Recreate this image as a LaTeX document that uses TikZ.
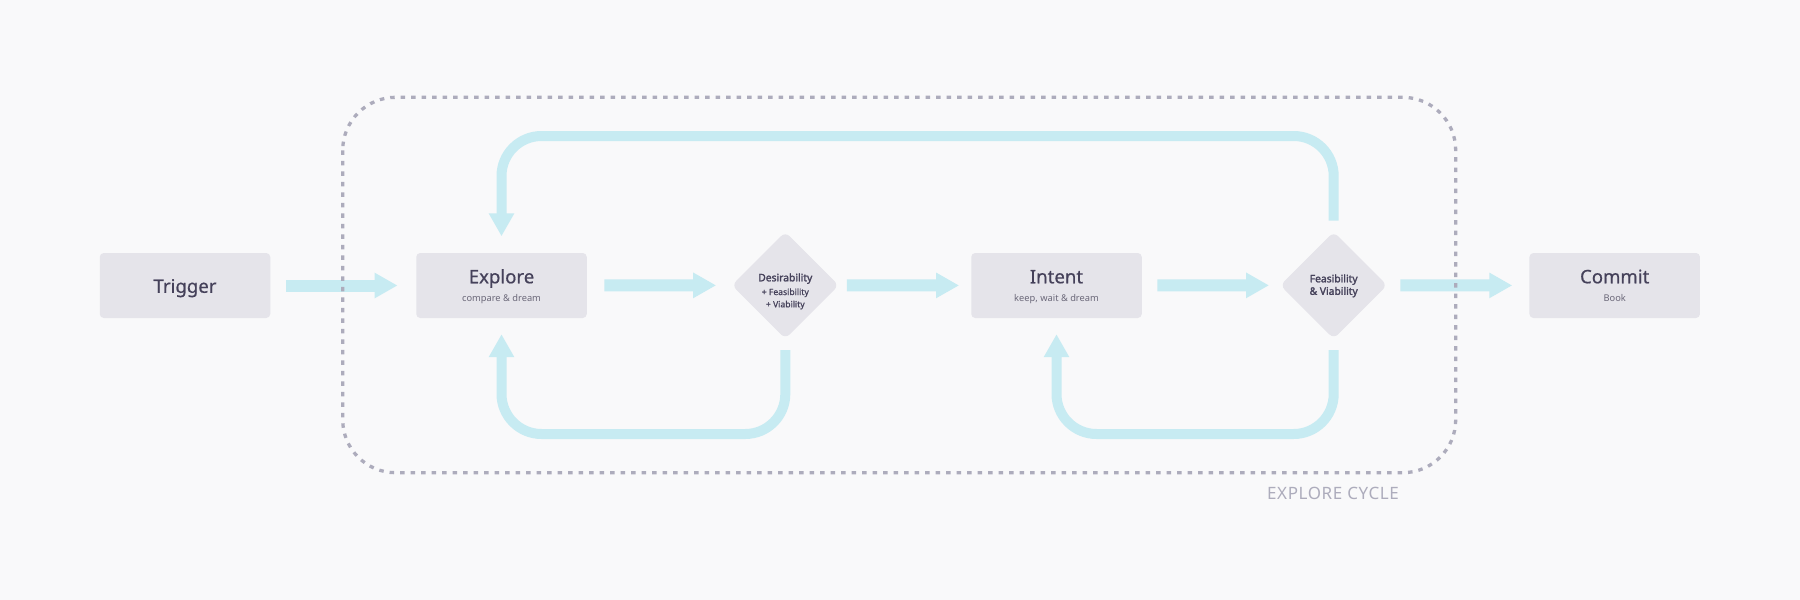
\documentclass[tikz,border=0pt]{standalone}
\usepackage{fontspec}
\setmainfont{Noto Sans}[AutoFakeBold=2]
\newfontfamily\midfont{Noto Sans}[FakeBold=0.6]
\usetikzlibrary{shapes.geometric,arrows.meta}

\definecolor{bgcol}{HTML}{F9F9FA}
\definecolor{boxcol}{HTML}{E5E4EA}
\definecolor{inkcol}{HTML}{45415A}
\definecolor{subcol}{HTML}{6B6879}
\definecolor{flowcol}{HTML}{C7EBF2}
\definecolor{dashcol}{HTML}{ADACBC}

\tikzset{
  stagebox/.style={draw=none,fill=boxcol,rounded corners=4pt,minimum width=170.5pt,minimum height=65pt,inner sep=0pt},
  gatebox/.style={diamond,aspect=1,draw=none,fill=boxcol,rounded corners=6pt,minimum size=107pt,inner sep=0pt},
  ttl/.style={anchor=base,inner sep=0pt,text=inkcol,font=\midfont\fontsize{18.6}{22}\selectfont},
  subttl/.style={anchor=base,inner sep=0pt,text=subcol,font=\fontsize{9.3}{11}\selectfont},
  gatettl/.style={anchor=base,inner sep=0pt,text=inkcol,font=\bfseries\fontsize{10.3}{12}\selectfont},
  gatesub/.style={anchor=base,inner sep=0pt,text=inkcol,font=\midfont\fontsize{8.6}{10}\selectfont},
  flow/.style={draw=flowcol,line width=12pt,-{Triangle[width=24pt,length=23pt]}},
  loopline/.style={draw=flowcol,line width=10pt,rounded corners=40pt,-{Triangle[width=24pt,length=23pt]}}
}

\begin{document}
\begin{tikzpicture}[x=1pt,y=-1pt]
  \fill[bgcol] (0,0) rectangle (1800,600);
  \useasboundingbox (0,0) rectangle (1800,600);

  % stages and gates
  \node[stagebox] (trigger) at (185,285.5) {};
  \node[ttl] (triggerT) at (185,292.8) {Trigger};
  \node[stagebox] (explore) at (501.5,285.5) {};
  \node[ttl] (exploreT) at (501.5,283.3) {Explore};
  \node[subttl] (exploreS) at (501.5,301) {compare \& dream};
  \node[gatebox] (dfv) at (785.3,285.3) {};
  \node[gatettl] (dfvT) at (785.3,281.3) {Desirability};
  \node[gatesub] (dfvS1) at (785.3,295) {+ Feasibility};
  \node[gatesub] (dfvS2) at (785.3,307.3) {+ Viability};
  \node[stagebox] (intent) at (1056.5,285.5) {};
  \node[ttl] (intentT) at (1056.5,283.3) {Intent};
  \node[subttl] (intentS) at (1056.5,301) {keep, wait \& dream};
  \node[gatebox] (fv) at (1333.7,285.3) {};
  \node[gatettl] (fvT1) at (1333.7,282.3) {Feasibility};
  \node[gatettl] (fvT2) at (1333.7,294.8) {\& Viability};
  \node[stagebox] (commit) at (1614.7,285.5) {};
  \node[ttl] (commitT) at (1614.7,283.3) {Commit};
  \node[subttl] (commitS) at (1614.7,301) {Book};

  % straight flow
  \draw[flow,shorten <=16pt,shorten >=18.5pt] (trigger) -- (explore);
  \draw[flow,shorten <=17.5pt,shorten >=15.5pt] (explore) -- (dfv);
  \draw[flow,shorten <=8pt,shorten >=12pt] (dfv) -- (intent);
  \draw[flow,shorten <=15.5pt,shorten >=11pt] (intent) -- (fv);
  \draw[flow,shorten <=13pt,shorten >=17pt] (fv) -- (commit);

  % loops back
  \coordinate (topline) at (0,136);
  \coordinate (botline) at (0,434);
  \draw[loopline] ([yshift=11pt]fv.north) -- (fv.north |- topline) -- (explore.north |- topline) -- ([yshift=16.5pt]explore.north);
  \draw[loopline] ([yshift=-11pt]dfv.south) -- (dfv.south |- botline) -- (explore.south |- botline) -- ([yshift=-16pt]explore.south);
  \draw[loopline] ([yshift=-11pt]fv.south) -- (fv.south |- botline) -- (intent.south |- botline) -- ([yshift=-16pt]intent.south);

  % the cycle
  \draw[dashcol,line width=3.3pt,dash pattern=on 4.5pt off 6pt,rounded corners=53pt] (342.7,97.3) rectangle (1455.7,472.7);
  \node[anchor=base,inner sep=0pt,text=dashcol,font=\fontsize{17}{20}\selectfont\addfontfeatures{LetterSpace=3.5}] (cycleT) at (1333,499) {EXPLORE CYCLE};
\end{tikzpicture}
\end{document}
